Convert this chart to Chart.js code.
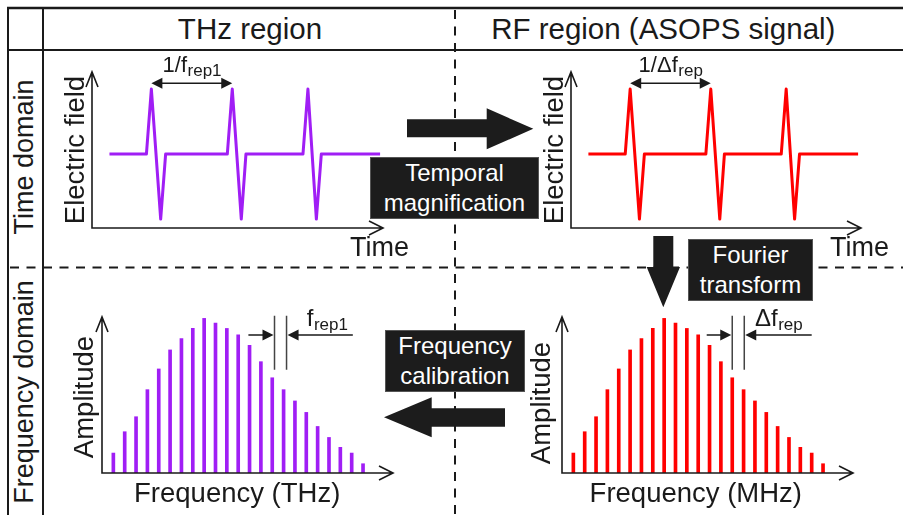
<!DOCTYPE html>
<html>
<head>
<meta charset="utf-8">
<script src="https://cdn.jsdelivr.net/npm/chart.js"></script>
<style>
  html, body { margin: 0; padding: 0; background: #fff; }
  #fig { position: relative; width: 903px; height: 515px; overflow: hidden;
         font-family: "Liberation Sans", Arial, sans-serif; color: #1a1a1a; }
  .t { position: absolute; line-height: 1; white-space: nowrap; }
  .c { transform: translateX(-50%); }
  .r { transform: translate(-50%, -50%) rotate(-90deg); }
  .box { position: absolute; background: #1c1c1c; color: #fff; font-size: 24px; line-height: 30px;
         display: flex; align-items: center; justify-content: center; text-align: center;
         box-sizing: border-box; border: 1px solid #555; }
  .panel { position: absolute; }
  svg { position: absolute; left: 0; top: 0; }
</style>
</head>
<body>
<div id="fig">
  <svg width="903" height="515">
    <g stroke="#1a1a1a" fill="none">
      <line x1="7" y1="8" x2="903" y2="8" stroke-width="2.4"/>
      <line x1="8" y1="7" x2="8" y2="515" stroke-width="2"/>
      <line x1="43" y1="8" x2="43" y2="515" stroke-width="2"/>
      <line x1="8" y1="50" x2="903" y2="50" stroke-width="2"/>
      <line x1="10" y1="267.5" x2="903" y2="267.5" stroke-width="2" stroke-dasharray="9 7.5"/>
      <line x1="455" y1="10" x2="455" y2="515" stroke-width="2" stroke-dasharray="9 7.5"/>
    </g>
    <g fill="#1c1c1c">
      <polygon points="407,119.3 486.7,119.3 486.7,108.3 533.3,128.8 486.7,149.3 486.7,137.3 407,137.3"/>
      <polygon points="505,408.3 431.7,408.3 431.7,397.3 384,417.3 431.7,437.3 431.7,426.7 505,426.7"/>
      <polygon points="653.3,236 673.3,236 673.3,267 680,267 663.3,307.3 646.7,267 653.3,267"/>
    </g>
  </svg>

  <div class="t c" style="left:250px; top:14.3px; font-size:29.5px">THz region</div>
  <div class="t c" style="left:663.3px; top:14.3px; font-size:29.5px">RF region (ASOPS signal)</div>
  <div class="t r" style="left:23.9px; top:157px; font-size:27px">Time domain</div>
  <div class="t r" style="left:23.9px; top:391.5px; font-size:27px">Frequency domain</div>

  <div class="panel" style="left:78px; top:44px; width:319px; height:198px"><canvas id="thzTime"></canvas></div>
  <div class="panel" style="left:557px; top:44px; width:318px; height:198px"><canvas id="rfTime"></canvas></div>
  <div class="panel" style="left:88px; top:303px; width:319px; height:184px"><canvas id="thzFreq"></canvas></div>
  <div class="panel" style="left:548px; top:303px; width:319px; height:184px"><canvas id="rfFreq"></canvas></div>

  <div class="t r" style="left:75.3px; top:150px; font-size:27.5px">Electric field</div>
  <div class="t r" style="left:553.6px; top:149.5px; font-size:27.5px">Electric field</div>
  <div class="t" style="left:350px; top:234px; font-size:27px">Time</div>
  <div class="t" style="left:830px; top:234px; font-size:27px">Time</div>
  <div class="t r" style="left:84.1px; top:396.7px; font-size:27.5px">Amplitude</div>
  <div class="t r" style="left:540.8px; top:402.5px; font-size:27.5px">Amplitude</div>
  <div class="t c" style="left:237.2px; top:478.7px; font-size:27.5px">Frequency (THz)</div>
  <div class="t c" style="left:695.8px; top:478.7px; font-size:27.5px">Frequency (MHz)</div>

  <div class="box" style="left:370px; top:157px; width:169px; height:62px">Temporal<br>magnification</div>
  <div class="box" style="left:385px; top:330px; width:140px; height:62px">Frequency<br>calibration</div>
  <div class="box" style="left:688px; top:239px; width:125px; height:62px">Fourier<br>transform</div>
</div>

<script>
// --- DATA ---
// pulse train (time in arb. units, field normalised to peak)
const pulseTime = [6, 18.7, 20.4, 23.6, 25.3, 46.5, 48.2, 51.3, 52.9, 72.5, 74.2, 77.1, 78.8, 99];
const pulseField = [0, 0, 1, -1, 0, 0, 1, -1, 0, 0, 1, -1, 0, 0];

// comb lines (index n = multiples of the repetition rate)
const combIndex = [1, 2, 3, 4, 5, 6, 7, 8, 9, 10, 11, 12, 13, 14, 15, 16, 17, 18, 19, 20, 21, 22, 23];
const combAmplitude = [0.129, 0.267, 0.364, 0.539, 0.673, 0.796, 0.869, 0.935, 1.0, 0.970, 0.935, 0.893,
                       0.825, 0.720, 0.616, 0.539, 0.466, 0.392, 0.301, 0.230, 0.166, 0.129, 0.060];

// spacing markers
const thzMarkers = [15.2, 16.26];
const rfMarkers = [15.0, 16.06];
const thzMarkerTails = [12.9, 22.1];
const rfMarkerTails = [12.75, 22.0];

const thzPeriodLabel = ['1/f', 'rep1'];
const rfPeriodLabel = ['1/\u0394f', 'rep'];
const thzSpacingLabel = ['f', 'rep1'];
const rfSpacingLabel = ['\u0394f', 'rep'];

const PURPLE = '#a01ef5';
const RED = '#ff0000';
const INK = '#1a1a1a';
const FONT = '"Liberation Sans", Arial, sans-serif';

// --- HELPERS ---
function subLabel(ctx, parts, x, y, center, mainSize, subSize) {
    ctx.font = mainSize + 'px ' + FONT;
    const w1 = ctx.measureText(parts[0]).width;
    ctx.font = subSize + 'px ' + FONT;
    const w2 = ctx.measureText(parts[1]).width;
    const x0 = center ? x - (w1 + w2) / 2 : x;
    ctx.fillStyle = INK;
    ctx.textAlign = 'left';
    ctx.textBaseline = 'alphabetic';
    ctx.font = mainSize + 'px ' + FONT;
    ctx.fillText(parts[0], x0, y);
    ctx.font = subSize + 'px ' + FONT;
    ctx.fillText(parts[1], x0 + w1 + 0.5, y + 4);
}

function solidHead(ctx, tipX, tipY, dir) {
    // dir: +1 points right, -1 points left
    ctx.beginPath();
    ctx.moveTo(tipX, tipY);
    ctx.lineTo(tipX - dir * 11, tipY - 5.5);
    ctx.lineTo(tipX - dir * 11, tipY + 5.5);
    ctx.closePath();
    ctx.fill();
}

// axes with open arrow heads + annotations
const panelDecor = {
    id: 'panelDecor',
    afterDatasetsDraw(chart, args, opts) {
        const ctx = chart.ctx;
        const a = chart.chartArea;
        const x = chart.scales.x, y = chart.scales.y;
        ctx.save();
        ctx.strokeStyle = INK;
        ctx.fillStyle = INK;
        ctx.lineWidth = 1.6;
        ctx.lineJoin = 'miter';
        ctx.beginPath();
        ctx.moveTo(a.left, a.top);
        ctx.lineTo(a.left, a.bottom);
        ctx.lineTo(a.right, a.bottom);
        ctx.moveTo(a.left - 6, a.top + 15);
        ctx.lineTo(a.left, a.top);
        ctx.lineTo(a.left + 6, a.top + 15);
        ctx.moveTo(a.right - 14, a.bottom - 7);
        ctx.lineTo(a.right, a.bottom);
        ctx.lineTo(a.right - 14, a.bottom + 7);
        ctx.stroke();

        if (opts.span) {
            const s = opts.span;
            const x1 = x.getPixelForValue(s.from), x2 = x.getPixelForValue(s.to);
            const yy = y.getPixelForValue(s.at);
            ctx.lineWidth = 1.5;
            ctx.beginPath();
            ctx.moveTo(x1 + 8, yy);
            ctx.lineTo(x2 - 8, yy);
            ctx.stroke();
            solidHead(ctx, x1, yy, -1);
            solidHead(ctx, x2, yy, 1);
            subLabel(ctx, s.label, (x1 + x2) / 2, y.getPixelForValue(s.labelAt), true, 22, 17);
        }

        if (opts.marks) {
            const m = opts.marks;
            const yLo = y.getPixelForValue(m.low), yHi = y.getPixelForValue(m.high);
            const xa = x.getPixelForValue(m.lines[0]), xb = x.getPixelForValue(m.lines[1]);
            ctx.strokeStyle = '#444';
            ctx.lineWidth = 1.5;
            ctx.beginPath();
            ctx.moveTo(xa, yLo); ctx.lineTo(xa, yHi);
            ctx.moveTo(xb, yLo); ctx.lineTo(xb, yHi);
            ctx.stroke();
            const ya = y.getPixelForValue(m.at);
            const ta = x.getPixelForValue(m.tails[0]), tb = x.getPixelForValue(m.tails[1]);
            ctx.strokeStyle = INK;
            ctx.beginPath();
            ctx.moveTo(ta, ya); ctx.lineTo(xa - 8, ya);
            ctx.moveTo(tb, ya); ctx.lineTo(xb + 8, ya);
            ctx.stroke();
            solidHead(ctx, xa - 1, ya, 1);
            solidHead(ctx, xb + 1, ya, -1);
            subLabel(ctx, m.label, x.getPixelForValue(m.labelX), y.getPixelForValue(m.labelAt), false, 24, 17);
        }
        ctx.restore();
    }
};

function timeChart(id, color, label) {
    return new Chart(document.getElementById(id), {
        type: 'line',
        data: {
            datasets: [{
                data: pulseTime.map((t, i) => ({ x: t, y: pulseField[i] })),
                borderColor: color,
                borderWidth: 3,
                borderJoinStyle: 'round',
                pointRadius: 0,
                tension: 0,
                fill: false
            }]
        },
        options: {
            responsive: true,
            maintainAspectRatio: false,
            animation: false,
            events: [],
            layout: { padding: { left: 14, right: 14, top: 28, bottom: 14 } },
            plugins: {
                legend: { display: false },
                tooltip: { enabled: false },
                panelDecor: { span: { from: pulseTime[2], to: pulseTime[6], at: 1.09, labelAt: 1.26, label: label } }
            },
            scales: {
                x: { type: 'linear', display: false, min: 0, max: 100 },
                y: { type: 'linear', display: false, min: -1.138, max: 1.262 }
            }
        },
        plugins: [panelDecor]
    });
}

function combChart(id, color, markers, tails, label, labelX) {
    return new Chart(document.getElementById(id), {
        type: 'bar',
        data: {
            datasets: [{
                data: combIndex.map((n, i) => ({ x: n, y: combAmplitude[i] })),
                backgroundColor: color,
                barThickness: 3,
                borderWidth: 0
            }]
        },
        options: {
            responsive: true,
            maintainAspectRatio: false,
            animation: false,
            events: [],
            layout: { padding: 14 },
            plugins: {
                legend: { display: false },
                tooltip: { enabled: false },
                panelDecor: {
                    marks: { lines: markers, tails: tails, low: 0.668, high: 1.017, at: 0.893,
                             label: label, labelX: labelX, labelAt: 0.951 }
                }
            },
            scales: {
                x: { type: 'linear', display: false, min: 0, max: 25.64, offset: false },
                y: { type: 'linear', display: false, min: 0, max: 1.009 }
            }
        },
        plugins: [panelDecor]
    });
}

timeChart('thzTime', PURPLE, thzPeriodLabel);
timeChart('rfTime', RED, rfPeriodLabel);
combChart('thzFreq', PURPLE, thzMarkers, thzMarkerTails, thzSpacingLabel, 18.04);
combChart('rfFreq', RED, rfMarkers, rfMarkerTails, rfSpacingLabel, 17.0);
</script>
</body>
</html>
